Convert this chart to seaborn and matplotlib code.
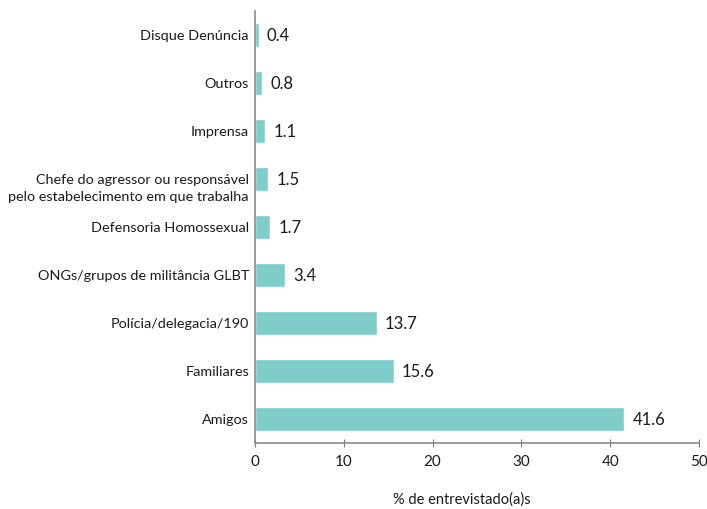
import matplotlib
matplotlib.use("Agg")
import matplotlib.pyplot as plt
import matplotlib.transforms as mtransforms
import seaborn as sns
import pandas as pd

categories = [
    "Disque Denúncia",
    "Outros",
    "Imprensa",
    "Chefe do agressor ou responsável\npelo estabelecimento em que trabalha",
    "Defensoria Homossexual",
    "ONGs/grupos de militância GLBT",
    "Polícia/delegacia/190",
    "Familiares",
    "Amigos",
]
values = [0.4, 0.8, 1.1, 1.5, 1.7, 3.4, 13.7, 15.6, 41.6]
x_ticks = [0, 10, 20, 30, 40, 50]

df = pd.DataFrame({"fonte": categories, "pct": values})

sns.set_theme(style="white")
plt.rcParams["font.family"] = ["Lato", "DejaVu Sans"]

fig = plt.figure(figsize=(7.07, 5.09), dpi=100)
ax = fig.add_axes([255 / 707, 1 - 443 / 509, 444 / 707, 432 / 509])

sns.barplot(data=df, x="pct", y="fonte", color="#7ecdc8", width=0.5,
            saturation=1, ax=ax, orient="h")

for i, v in enumerate(values):
    ax.text(v + 0.95, i + 0.03, f"{v}", va="center", ha="left", fontsize=12,
            color="#1a1a1a")

# category names drawn as text so the wrapped one can get its own line spacing
ax.set_yticklabels([""] * len(categories))
label_tf = mtransforms.offset_copy(
    mtransforms.blended_transform_factory(ax.transAxes, ax.transData),
    fig=fig, x=-6, y=0, units="dots")
for i, cat in enumerate(categories):
    two_lines = "\n" in cat
    ax.text(0, i + (0.2 if two_lines else 0.03), cat, transform=label_tf,
            ha="right", va="center", fontsize=10.4, color="#1a1a1a",
            linespacing=1.5, clip_on=False)

ax.set_xlim(0, 50)
ax.set_ylim(8.5, -0.5)
ax.set_xticks(x_ticks)
ax.set_xticklabels([str(t) for t in x_ticks], fontsize=11, color="#1a1a1a")
ax.tick_params(axis="y", length=0)
ax.tick_params(axis="x", direction="inout", length=6, width=0.8,
               color="#7a7a7a", pad=6, bottom=True)
ax.set_ylabel("")
ax.set_xlabel("% de entrevistado(a)s", fontsize=10.5, color="#1a1a1a")
ax.xaxis.set_label_coords(0.465, -0.115)

for side in ("top", "right"):
    ax.spines[side].set_visible(False)
for side in ("left", "bottom"):
    ax.spines[side].set_color("#8a8a8a")
    ax.spines[side].set_linewidth(1.2)

fig.savefig("out.png", dpi=100)
